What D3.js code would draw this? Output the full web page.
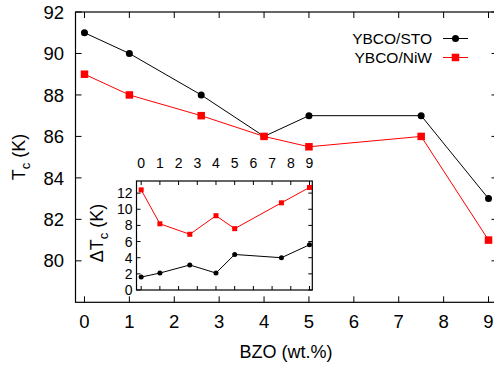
<!DOCTYPE html>
<html>
<head>
<meta charset="utf-8">
<script src="https://cdn.jsdelivr.net/npm/d3@7"></script>
<style>
  body { margin: 0; background: #fff; }
  svg { display: block; font-family: "Liberation Sans", Arial, Helvetica, sans-serif; }
</style>
</head>
<body>
<div id="chart"></div>
<script>
// BZO content (wt.%)
const bzo = [0, 1, 2.6, 4, 5, 7.5, 9];
// Tc values (K)
const tcSTO = [91, 90, 88, 86, 87, 87, 83];
const tcNiW = [89, 88, 87, 86, 85.5, 86, 81];
// transition width (K), inset
const dTcSTO = [1.6, 2.1, 3.1, 2.1, 4.4, 4.0, 5.6];
const dTcNiW = [12.4, 8.2, 6.9, 9.2, 7.6, 10.8, 12.7];

const xTicks = [0, 1, 2, 3, 4, 5, 6, 7, 8, 9];
const yTicks = [80, 82, 84, 86, 88, 90, 92];
const insetYTicks = [0, 2, 4, 6, 8, 10, 12];
const seriesNames = ['YBCO/STO', 'YBCO/NiW'];

const W = 494, H = 365;

const svg = d3.select("#chart")
              .append("svg")
              .attr("width", W)
              .attr("height", H);

svg.append("rect").attr("width", W).attr("height", H).attr("fill", "#fff");

// main plot
const x = d3.scaleLinear().domain([-0.2, 9.2]).range([75.5, 497.5]);
const y = d3.scaleLinear().domain([78, 92]).range([302.3, 12]);

const frame = svg.append("g");
frame.append("rect")
     .attr("x", x.range()[0]).attr("y", y.range()[1])
     .attr("width", x.range()[1] - x.range()[0])
     .attr("height", y.range()[0] - y.range()[1])
     .attr("fill", "none").attr("stroke", "#000").attr("stroke-width", 1.2);

const tk = 6;
xTicks.forEach(t => {
    frame.append("line").attr("x1", x(t)).attr("x2", x(t))
         .attr("y1", y.range()[0]).attr("y2", y.range()[0] - tk).attr("stroke", "#000");
    frame.append("line").attr("x1", x(t)).attr("x2", x(t))
         .attr("y1", y.range()[1]).attr("y2", y.range()[1] + tk).attr("stroke", "#000");
    frame.append("text").attr("x", x(t)).attr("y", 328)
         .attr("text-anchor", "middle").attr("font-size", 18.5).text(t);
});
yTicks.forEach(t => {
    frame.append("line").attr("x1", x.range()[0]).attr("x2", x.range()[0] + tk)
         .attr("y1", y(t)).attr("y2", y(t)).attr("stroke", "#000");
    frame.append("line").attr("x1", x.range()[1]).attr("x2", x.range()[1] - tk)
         .attr("y1", y(t)).attr("y2", y(t)).attr("stroke", "#000");
    frame.append("text").attr("x", 64).attr("y", y(t))
         .attr("dy", "0.36em")
         .attr("text-anchor", "end").attr("font-size", 18.5).text(t);
});

svg.append("text").attr("x", 286).attr("y", 358)
   .attr("text-anchor", "middle").attr("font-size", 18).text("BZO (wt.%)");

const yl = svg.append("text")
   .attr("transform", "translate(25,157) rotate(-90)")
   .attr("text-anchor", "middle").attr("font-size", 18);
yl.append("tspan").text("T");
yl.append("tspan").attr("font-size", 13).attr("dy", 5).text("c");
yl.append("tspan").attr("dy", -5).text(" (K)");

function drawSeries(g, xs, ys, vals, color, shape, size, width) {
    const line = d3.line().x((d, i) => xs(bzo[i])).y(d => ys(d));
    g.append("path").datum(vals)
     .attr("d", line).attr("fill", "none")
     .attr("stroke", color).attr("stroke-width", width);
    if (shape === 'circle') {
        g.selectAll(null).data(vals).enter().append("circle")
         .attr("cx", (d, i) => xs(bzo[i])).attr("cy", d => ys(d))
         .attr("r", size / 2).attr("fill", color);
    } else {
        g.selectAll(null).data(vals).enter().append("rect")
         .attr("x", (d, i) => xs(bzo[i]) - size / 2).attr("y", d => ys(d) - size / 2)
         .attr("width", size).attr("height", size).attr("fill", color);
    }
}

const plot = svg.append("g");
drawSeries(plot, x, y, tcSTO, "#000", 'circle', 7, 1);
drawSeries(plot, x, y, tcNiW, "#ff0000", 'rect', 7.5, 1);

// legend
const legend = svg.append("g");
[["#000", 'circle'], ["#ff0000", 'rect']].forEach((s, i) => {
    const ly = 38.5 + i * 19;
    legend.append("text").attr("x", 432).attr("y", ly).attr("dy", "0.36em")
          .attr("text-anchor", "end").attr("font-size", 15.5).text(seriesNames[i]);
    legend.append("line").attr("x1", 443).attr("x2", 468)
          .attr("y1", ly).attr("y2", ly).attr("stroke", s[0]);
    if (s[1] === 'circle') {
        legend.append("circle").attr("cx", 455.5).attr("cy", ly).attr("r", 3.5).attr("fill", s[0]);
    } else {
        legend.append("rect").attr("x", 451.7).attr("y", ly - 3.8)
              .attr("width", 7.5).attr("height", 7.5).attr("fill", s[0]);
    }
});

// inset
const xi = d3.scaleLinear().domain([-0.25, 9.15]).range([136.5, 312.3]);
const yi = d3.scaleLinear().domain([0, 13.5]).range([290, 181]);

const inset = svg.append("g");
inset.append("rect")
     .attr("x", xi.range()[0]).attr("y", yi.range()[1])
     .attr("width", xi.range()[1] - xi.range()[0])
     .attr("height", yi.range()[0] - yi.range()[1])
     .attr("fill", "#fff").attr("stroke", "#000").attr("stroke-width", 1.2);

const tki = 4;
xTicks.forEach(t => {
    inset.append("line").attr("x1", xi(t)).attr("x2", xi(t))
         .attr("y1", yi.range()[0]).attr("y2", yi.range()[0] - tki).attr("stroke", "#000");
    inset.append("line").attr("x1", xi(t)).attr("x2", xi(t))
         .attr("y1", yi.range()[1]).attr("y2", yi.range()[1] + tki).attr("stroke", "#000");
    inset.append("text").attr("x", xi(t)).attr("y", 168)
         .attr("text-anchor", "middle").attr("font-size", 14).text(t);
});
insetYTicks.forEach(t => {
    inset.append("line").attr("x1", xi.range()[0]).attr("x2", xi.range()[0] + tki)
         .attr("y1", yi(t)).attr("y2", yi(t)).attr("stroke", "#000");
    inset.append("line").attr("x1", xi.range()[1]).attr("x2", xi.range()[1] - tki)
         .attr("y1", yi(t)).attr("y2", yi(t)).attr("stroke", "#000");
    inset.append("text").attr("x", 132.5).attr("y", yi(t)).attr("dy", "0.36em")
         .attr("text-anchor", "end").attr("font-size", 14).text(t);
});

const il = svg.append("text")
   .attr("transform", "translate(103,233) rotate(-90)")
   .attr("text-anchor", "middle").attr("font-size", 18);
il.append("tspan").text("\u0394T");
il.append("tspan").attr("font-size", 13).attr("dy", 5).text("c");
il.append("tspan").attr("dy", -5).text(" (K)");

drawSeries(inset, xi, yi, dTcSTO, "#000", 'circle', 5, 1);
drawSeries(inset, xi, yi, dTcNiW, "#ff0000", 'rect', 5, 1);
</script>
</body>
</html>
